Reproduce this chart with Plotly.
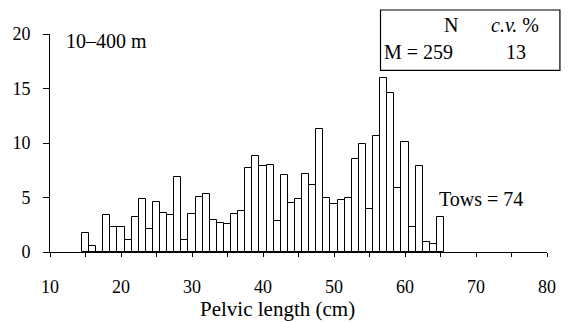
import plotly.graph_objects as go

# pelvic length classes (cm) and percentage frequency per 1 cm class
lengths = list(range(15, 66))
freq = [1.7, 0.55, 0, 3.4, 2.3, 2.3, 1.1, 3.25, 4.85, 2.15,
        4.6, 3.6, 3.4, 6.9, 1.1, 3.5, 5.05, 5.3, 2.9, 2.65,
        2.6, 3.45, 3.8, 7.7, 8.8, 7.9, 8.0, 2.8, 7.05, 4.5,
        4.9, 7.2, 6.15, 11.3, 5.0, 4.4, 4.75, 5.0, 8.5, 9.9,
        3.95, 10.65, 16.0, 14.6, 5.9, 10.1, 2.25, 7.9, 0.9, 0.75,
        3.25]

x_ticks = list(range(10, 81, 5))
x_labels = [str(v) if v % 10 == 0 else "" for v in x_ticks]
y_ticks = [0, 5, 10, 15, 20]

FONT = "Liberation Serif"

fig = go.Figure()
fig.add_bar(
    x=lengths, y=freq, width=1,
    marker=dict(color="white", line=dict(color="black", width=1)),
)

fig.update_layout(
    width=568, height=322,
    margin=dict(l=50, r=16, t=34, b=70),
    plot_bgcolor="white", paper_bgcolor="white",
    showlegend=False,
    font=dict(family=FONT, size=18, color="black"),
    bargap=0,
)
fig.update_xaxes(
    range=[10, 80], tickvals=x_ticks, ticktext=x_labels,
    showline=True, linecolor="black", linewidth=1,
    ticks="outside", ticklen=4, tickcolor="black",
    showgrid=False, zeroline=False, ticklabelstandoff=14,
)
fig.update_yaxes(
    range=[0, 20], tickvals=y_ticks,
    showline=True, linecolor="black", linewidth=1,
    ticks="outside", ticklen=6, tickcolor="black",
    showgrid=False, zeroline=False, ticklabelstandoff=9,
)

# legend-style box with sample size and c.v.
fig.add_shape(type="rect", xref="paper", yref="paper",
              x0=0.665, x1=1.026, y0=0.833, y1=1.110,
              line=dict(color="black", width=1.2), fillcolor="rgba(0,0,0,0)")

notes = [
    ("N", 0.807, 1.04, "center"),
    ("<i>c.v.</i> %", 0.936, 1.04, "center"),
    ("M = 259", 0.669, 0.917, "left"),
    ("13", 0.938, 0.917, "center"),
    ("10–400 m", 0.028, 0.97, "left"),
    ("Tows = 74", 0.779, 0.243, "left"),
]
for txt, xx, yy, anc in notes:
    fig.add_annotation(text=txt, x=xx, y=yy, xref="paper", yref="paper",
                       xanchor=anc, yanchor="middle", showarrow=False,
                       font=dict(family=FONT, size=20))

fig.add_annotation(text="Pelvic length (cm)", x=0.458, y=-0.26,
                   xref="paper", yref="paper", xanchor="center",
                   yanchor="middle", showarrow=False,
                   font=dict(family=FONT, size=21))

fig.write_html("out.html", config={"displayModeBar": False},
               post_script="document.body.style.margin='0';")
